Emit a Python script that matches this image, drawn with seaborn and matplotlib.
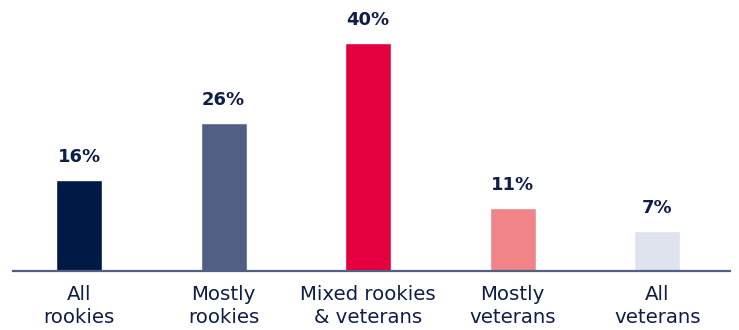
import matplotlib
matplotlib.use("Agg")
import matplotlib.pyplot as plt
import seaborn as sns
import pandas as pd

categories = ["All\nrookies", "Mostly\nrookies", "Mixed rookies\n& veterans", "Mostly\nveterans", "All\nveterans"]
values = [16, 26, 40, 11, 7]
labels = ["16%", "26%", "40%", "11%", "7%"]
colors = ["#001A45", "#505F83", "#E4003F", "#F08486", "#DFE3EE"]

sns.set_theme(style="white")
plt.rcParams['font.family'] = ['DejaVu Sans']

df = pd.DataFrame({"cat": categories, "val": values})

fig = plt.figure(figsize=(7.39, 3.30), dpi=100)
ax = fig.add_axes([13/739, 59/330, 717/739, 262/330])
sns.barplot(data=df, x="cat", y="val", hue="cat", palette=colors, legend=False,
            width=0.318, ax=ax, saturation=1)
ax.set_xlim(-66/144.6, (730-79)/144.6)
ax.set_ylim(0, 46)
ax.set_xlabel("")
ax.set_ylabel("")
ax.set_yticks([])
for s in ["top", "right", "left"]:
    ax.spines[s].set_visible(False)
ax.spines["bottom"].set_color("#505F83")
ax.spines["bottom"].set_linewidth(1.6)
ax.tick_params(axis="x", length=0, pad=10, labelsize=14.2, labelcolor="#0E1E45")
for t in ax.get_xticklabels():
    t.set_linespacing(1.28)
for i, (v, l) in enumerate(zip(values, labels)):
    ax.annotate(l, (i, v), xytext=(0, 10), textcoords="offset points",
                ha="center", va="bottom", fontsize=13, fontweight="bold", color="#0E1E45")
fig.savefig("out.png", dpi=100)
